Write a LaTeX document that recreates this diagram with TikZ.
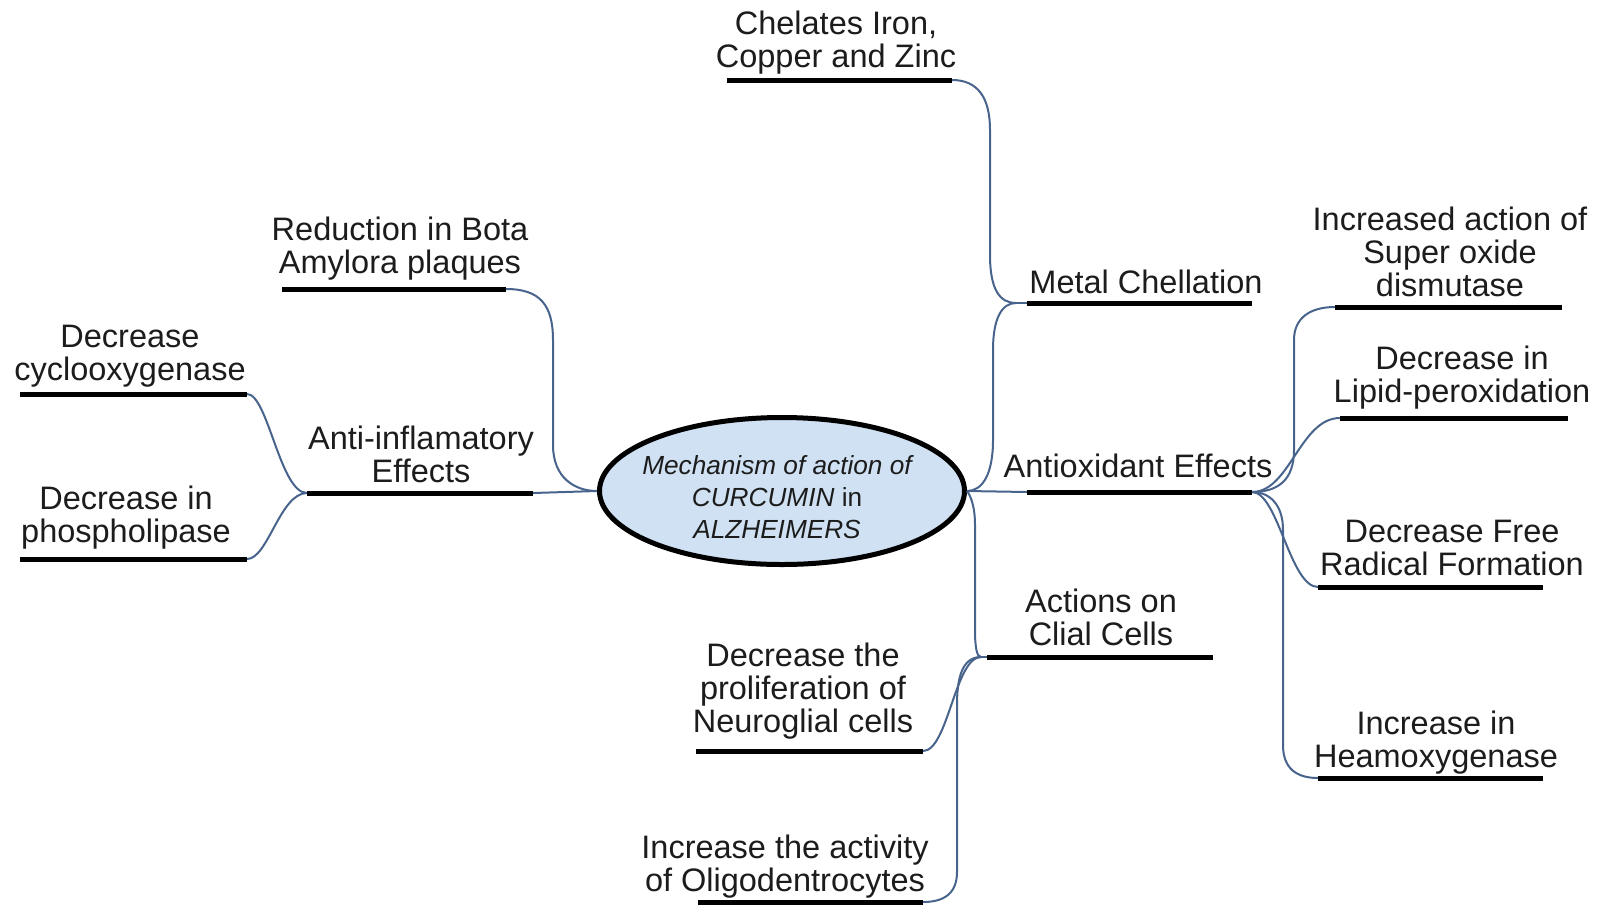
\documentclass[tikz,border=0pt]{standalone}
\usepackage{fontspec}
\setmainfont{Liberation Sans}
\usetikzlibrary{shapes.geometric}
\definecolor{txt}{RGB}{28,28,28}
\definecolor{conncol}{RGB}{72,100,140}
\definecolor{bubble}{RGB}{207,225,242}
\newcommand\lbl[1]{\parbox[b]{340pt}{\centering #1}}
\begin{document}
\begin{tikzpicture}[x=1pt,y=-1pt,
  item/.style={anchor=base, inner sep=0pt, text=txt, font=\fontsize{32.5}{33}\selectfont},
  coretxt/.style={anchor=base, inner sep=0pt, text=txt, font=\fontsize{26.2}{32}\selectfont\itshape},
  uline/.style={line width=5pt, draw=black},
  conn/.style={line width=2pt, draw=conncol},
  bubblestyle/.style={ellipse, draw=black, line width=5pt, fill=bubble, inner sep=0pt,
    minimum width=365pt, minimum height=147pt}
]
\fill[white] (0,0) rectangle (1600,906);
\useasboundingbox (0,0) rectangle (1600,906);

% underline end points
\coordinate (chelL) at (727,80);   \coordinate (chelR) at (952,80);
\coordinate (botaL) at (282,289);  \coordinate (botaR) at (506,289);
\coordinate (metalL) at (1027,303); \coordinate (metalR) at (1252,303);
\coordinate (metalJ) at (1016,303);
\coordinate (sodL) at (1335,307);  \coordinate (sodR) at (1562,307);
\coordinate (cycL) at (20,394);    \coordinate (cycR) at (247,394);
\coordinate (lipL) at (1340,418);  \coordinate (lipR) at (1568,418);
\coordinate (antiL) at (307,493);  \coordinate (antiR) at (533,493);
\coordinate (antoxL) at (1027,492); \coordinate (antoxR) at (1252,492);
\coordinate (phoL) at (20,559);    \coordinate (phoR) at (247,559);
\coordinate (freeL) at (1318,587); \coordinate (freeR) at (1543,587);
\coordinate (actL) at (987,657);   \coordinate (actR) at (1213,657);
\coordinate (actJ) at (981,657);
\coordinate (neuL) at (696,751);   \coordinate (neuR) at (923,751);
\coordinate (heaL) at (1318,778);  \coordinate (heaR) at (1543,778);
\coordinate (oliL) at (698,902);   \coordinate (oliR) at (923,902);

% central ellipse
\node[bubblestyle] (core) at (782,491) {};

% connectors
\draw[conn] (botaR) .. controls (540,289) and (553,305) .. (553,340) -- (553,445) .. controls (553,478) and (575,491) .. (core.west);
\draw[conn] (antiR) -- (core.west);
\draw[conn] (cycR) .. controls (268,394) and (280,493) .. (antiL);
\draw[conn] (phoR) .. controls (268,559) and (280,493) .. (antiL);
\draw[conn] (chelR) .. controls (978,80) and (990,98) .. (990,130) -- (990,255) .. controls (990,290) and (1000,303) .. (metalJ);
\draw[conn] (core.east) .. controls (982,491) and (993,475) .. (993,440) -- (993,350) .. controls (993,318) and (1002,303) .. (metalJ);
\draw[conn] (metalJ) -- (metalL);
\draw[conn] (core.east) -- (antoxL);
\draw[conn] (core.east) .. controls (970,495) and (975,505) .. (975,525) -- (975,630) .. controls (975,648) and (977,657) .. (actJ);
\draw[conn] (actJ) -- (actL);
\draw[conn] (actJ) .. controls (955,657) and (948,751) .. (neuR);
\draw[conn] (actJ) .. controls (962,657) and (957,678) .. (957,705) -- (957,872) .. controls (957,895) and (942,902) .. (oliR);
\draw[conn] (antoxR) .. controls (1278,492) and (1294,480) .. (1294,450) -- (1294,340) .. controls (1294,318) and (1310,307) .. (sodL);
\draw[conn] (antoxR) .. controls (1290,492) and (1300,418) .. (lipL);
\draw[conn] (antoxR) .. controls (1278,492) and (1290,587) .. (freeL);
\draw[conn] (antoxR) .. controls (1270,492) and (1283,505) .. (1283,530) -- (1283,745) .. controls (1283,768) and (1296,778) .. (heaL);

% underlines
\draw[uline] (chelL) -- (chelR);
\draw[uline] (botaL) -- (botaR);
\draw[uline] (metalL) -- (metalR);
\draw[uline] (sodL) -- (sodR);
\draw[uline] (cycL) -- (cycR);
\draw[uline] (lipL) -- (lipR);
\draw[uline] (antiL) -- (antiR);
\draw[uline] (antoxL) -- (antoxR);
\draw[uline] (phoL) -- (phoR);
\draw[uline] (freeL) -- (freeR);
\draw[uline] (actL) -- (actR);
\draw[uline] (neuL) -- (neuR);
\draw[uline] (heaL) -- (heaR);
\draw[uline] (oliL) -- (oliR);

% texts
\node[coretxt] (coretext) at (777,538) {\lbl{Mechanism of action of\\CURCUMIN {\upshape in}\\ALZHEIMERS}};
\node[item] (chel) at (836,67) {\lbl{Chelates Iron,\\Copper and Zinc}};
\node[item] (bota) at (400,273) {\lbl{Reduction in Bota\\Amylora plaques}};
\node[item] (metal) at (1146,293) {\lbl{Metal Chellation}};
\node[item] (sod) at (1450,296) {\lbl{Increased action of\\Super oxide\\dismutase}};
\node[item] (cyc) at (130,380) {\lbl{Decrease\\cyclooxygenase}};
\node[item] (lip) at (1462,402) {\lbl{Decrease in\\Lipid-peroxidation}};
\node[item] (anti) at (421,482) {\lbl{Anti-inflamatory\\Effects}};
\node[item] (antox) at (1138,477) {\lbl{Antioxidant Effects}};
\node[item] (pho) at (126,542) {\lbl{Decrease in\\phospholipase}};
\node[item] (free) at (1452,575) {\lbl{Decrease Free\\Radical Formation}};
\node[item] (act) at (1101,645) {\lbl{Actions on\\Clial Cells}};
\node[item] (neu) at (803,732) {\lbl{Decrease the\\proliferation of\\Neuroglial cells}};
\node[item] (hea) at (1436,767) {\lbl{Increase in\\Heamoxygenase}};
\node[item] (oli) at (785,891) {\lbl{Increase the activity\\of Oligodentrocytes}};
\end{tikzpicture}
\end{document}
